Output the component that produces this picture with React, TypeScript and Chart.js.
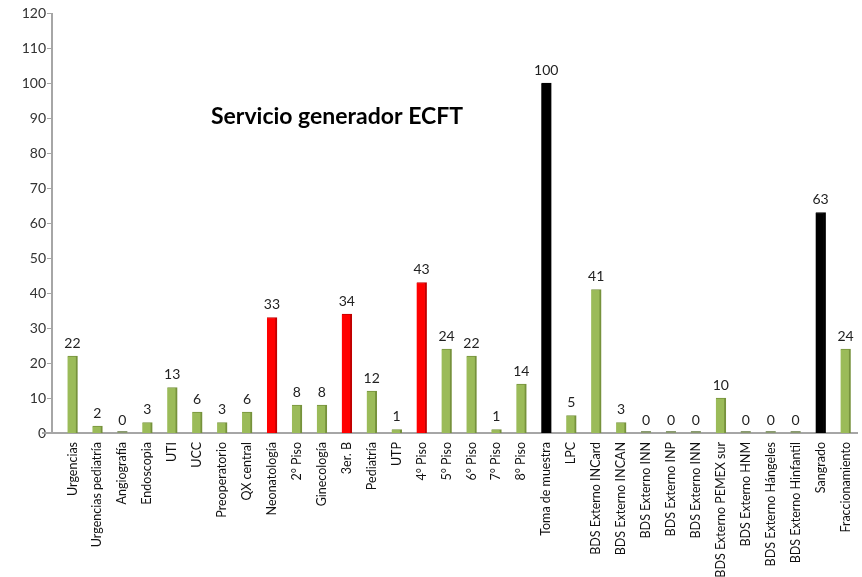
import React, { useEffect, useRef } from "react";
import { Chart, registerables } from "chart.js";

Chart.register(...registerables);

const categories = [
  "Urgencias", "Urgencias pediatría", "Angiografía", "Endoscopia", "UTI", "UCC",
  "Preoperatorio", "QX central", "Neonatología", "2° Piso", "Ginecología", "3er. B",
  "Pediatría", "UTP", "4° Piso", "5° Piso", "6° Piso", "7° Piso", "8° Piso",
  "Toma de muestra", "LPC", "BDS Externo INCard", "BDS Externo INCAN", "BDS Externo INN",
  "BDS Externo INP", "BDS Externo INN", "BDS Externo PEMEX sur", "BDS Externo HNM",
  "BDS Externo Hángeles", "BDS Externo Hinfantil", "Sangrado", "Fraccionamiento",
];

const values = [
  22, 2, 0, 3, 13, 6, 3, 6, 33, 8, 8, 34, 12, 1, 43, 24, 22, 1, 14, 100, 5, 41, 3, 0, 0, 0, 10, 0, 0, 0, 63, 24,
];

// "g" = green, "r" = red, "k" = black
const colorGroups = [
  "g", "g", "g", "g", "g", "g", "g", "g", "r", "g", "g", "r", "g", "g", "r", "g", "g", "g", "g",
  "k", "g", "g", "g", "g", "g", "g", "g", "g", "g", "g", "k", "g",
];

const yTicks = [0, 10, 20, 30, 40, 50, 60, 70, 80, 90, 100, 110, 120];

const chartTitle = "Servicio generador ECFT";

const FILL: Record<string, string> = { g: "#9BBB59", r: "#FF0000", k: "#000000" };
const EDGE: Record<string, string> = { g: "#76923C", r: "#C00000", k: "#000000" };

const FONT = "Lato, 'Open Sans', sans-serif";
const AXIS = "#a6a6a6";

export default function App() {
  const ref = useRef<HTMLCanvasElement | null>(null);

  useEffect(() => {
    document.body.style.margin = "0";
    const canvas = ref.current;
    if (!canvas) return;

    const axesPlugin = {
      id: "customAxes",
      beforeDatasetsDraw(chart: any) {
        const { ctx } = chart;
        const a = chart.chartArea;
        const ys = chart.scales.y;
        const ax = a.left - 8;
        ctx.save();
        ctx.strokeStyle = AXIS;
        ctx.lineWidth = 2;
        ctx.beginPath();
        ctx.moveTo(ax, a.top);
        ctx.lineTo(ax, a.bottom);
        ctx.stroke();
        ctx.lineWidth = 1;
        yTicks.forEach((v) => {
          const py = Math.round(ys.getPixelForValue(v)) + 0.5;
          ctx.beginPath();
          ctx.moveTo(ax - 5, py);
          ctx.lineTo(ax, py);
          ctx.stroke();
        });
        ctx.lineWidth = 2;
        ctx.beginPath();
        ctx.moveTo(ax - 10, a.bottom);
        ctx.lineTo(a.right, a.bottom);
        ctx.stroke();
        ctx.restore();
      },
    };

    const labelPlugin = {
      id: "valueLabels",
      afterDatasetsDraw(chart: any) {
        const { ctx } = chart;
        const meta = chart.getDatasetMeta(0);
        ctx.save();
        ctx.font = `14px ${FONT}`;
        ctx.fillStyle = "#222";
        ctx.textAlign = "center";
        ctx.textBaseline = "bottom";
        meta.data.forEach((bar: any, i: number) => {
          ctx.fillText(String(values[i]), bar.x, bar.y - 6);
        });
        ctx.fillStyle = "#8a9a70";
        meta.data.forEach((bar: any, i: number) => {
          if (values[i] === 0) ctx.fillRect(bar.x - 5, bar.y - 2, 10, 2);
        });
        const a = chart.chartArea;
        ctx.font = `bold 23px ${FONT}`;
        ctx.fillStyle = "#000";
        ctx.textAlign = "center";
        ctx.textBaseline = "middle";
        ctx.fillText(chartTitle, a.left + 277, a.top + 104);
        ctx.restore();
      },
    };

    const chart = new Chart(canvas, {
      type: "bar",
      data: {
        labels: categories,
        datasets: [
          {
            data: values,
            backgroundColor: colorGroups.map((c) => FILL[c]),
            borderColor: colorGroups.map((c) => EDGE[c]),
            borderWidth: { right: 2, top: 1, left: 0, bottom: 0 } as any,
            barThickness: 10,
          },
        ],
      },
      options: {
        animation: false,
        responsive: false,
        maintainAspectRatio: false,
        layout: { padding: { top: 13, right: 4, left: 0, bottom: 0 } },
        plugins: {
          legend: { display: false },
          tooltip: { enabled: false },
          title: { display: false },
        },
        scales: {
          x: {
            afterFit(scale: any) {
              scale.height = 144;
              scale.paddingLeft = 0;
              scale.paddingRight = 0;
              scale.paddingTop = 0;
              scale.paddingBottom = 0;
            },
            grid: { display: false, drawTicks: false },
            border: { display: false },
            ticks: {
              autoSkip: false,
              maxRotation: 90,
              minRotation: 90,
              padding: 9,
              color: "#111",
              font: { family: FONT, size: 12.5 },
            },
          },
          y: {
            min: 0,
            max: 120,
            afterBuildTicks(scale: any) {
              scale.ticks = yTicks.map((v) => ({ value: v }));
            },
            afterFit(scale: any) {
              scale.width = 60;
              scale.paddingTop = 0;
              scale.paddingBottom = 0;
            },
            grid: { display: false, drawTicks: false },
            border: { display: false },
            ticks: {
              padding: 14,
              color: "#333",
              font: { family: FONT, size: 14 },
            },
          },
        },
      },
      plugins: [axesPlugin, labelPlugin],
    });

    return () => chart.destroy();
  }, []);

  return <canvas ref={ref} width={862} height={577} style={{ display: "block" }} />;
}
